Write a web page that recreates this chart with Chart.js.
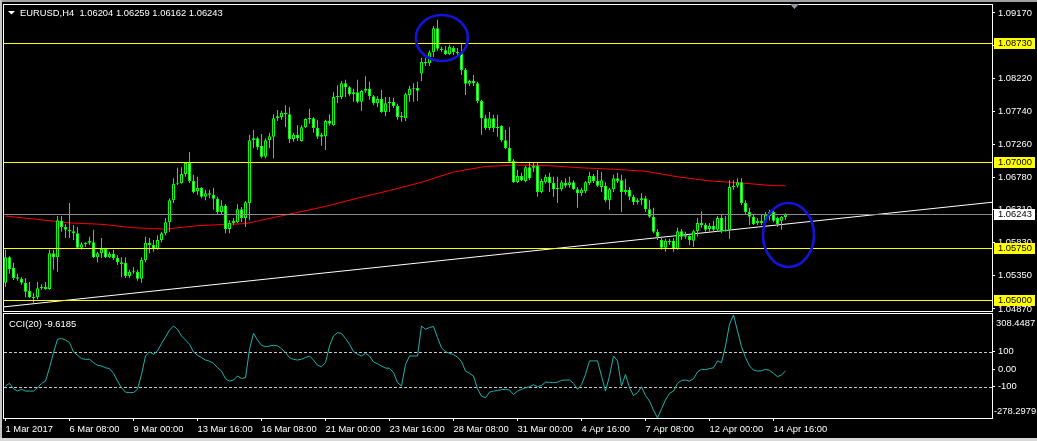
<!DOCTYPE html>
<html>
<head>
<meta charset="utf-8">
<title>EURUSD,H4</title>
<script src="https://cdn.jsdelivr.net/npm/chart.js@4.4.1/dist/chart.umd.min.js"></script>
<style>
  html, body { margin:0; padding:0; background:#000; }
  #wrap { position:relative; width:1037px; height:441px; background:#000; overflow:hidden; }
  canvas { position:absolute; left:0; display:block; }
  #main { top:0; }
  #cci { top:312px; }
  .edge { position:absolute; }
  #eTop { left:0; top:0; width:1037px; height:2px; background:#a0a0a0; }
  #eLeft { left:0; top:0; width:2px; height:441px; background:#c4c4c4; }
  #eBottom { left:0; bottom:0; width:1037px; height:3px; background:#d8d8d8; }
</style>
</head>
<body>
<div id="wrap">
  <canvas id="main" width="1037" height="312"></canvas>
  <canvas id="cci" width="1037" height="129"></canvas>
  <div class="edge" id="eTop"></div>
  <div class="edge" id="eLeft"></div>
  <div class="edge" id="eBottom"></div>
</div>
<script>
// ---------------- data ----------------
const symbol = 'EURUSD';
const timeframe = 'H4';

const open = [1.0525,1.0562,1.0547,1.0533,1.0531,1.0525,1.0513,1.0504,1.0504,1.0517,
1.0519,1.0516,1.0568,1.0562,1.0615,1.0606,1.0602,1.0600,1.0597,1.0576,
1.0581,1.0583,1.0584,1.0562,1.0568,1.0574,1.0562,1.0567,1.0561,1.0555,
1.0554,1.0535,1.0541,1.0541,1.0531,1.0558,1.0583,1.0580,1.0574,1.0587,
1.0597,1.0613,1.0645,1.0669,1.0670,1.0683,1.0699,1.0673,1.0658,1.0663,
1.0650,1.0655,1.0653,1.0647,1.0628,1.0637,1.0603,1.0612,1.0613,1.0632,
1.0619,1.0641,1.0732,1.0735,1.0724,1.0708,1.0732,1.0737,1.0764,1.0766,
1.0772,1.0770,1.0734,1.0740,1.0731,1.0751,1.0763,1.0764,1.0750,1.0737,
1.0738,1.0760,1.0754,1.0795,1.0795,1.0815,1.0809,1.0799,1.0802,1.0788,
1.0804,1.0807,1.0796,1.0786,1.0792,1.0773,1.0786,1.0788,1.0782,1.0766,
1.0764,1.0798,1.0807,1.0808,1.0829,1.0846,1.0844,1.0860,1.0895,1.0865,
1.0863,1.0857,1.0866,1.0860,1.0859,1.0834,1.0814,1.0818,1.0815,1.0789,
1.0764,1.0750,1.0764,1.0750,1.0753,1.0732,1.0721,1.0702,1.0671,1.0680,
1.0673,1.0693,1.0692,1.0695,1.0657,1.0671,1.0679,1.0670,1.0661,1.0661,
1.0670,1.0667,1.0671,1.0661,1.0655,1.0658,1.0670,1.0680,1.0673,1.0664,
1.0666,1.0645,1.0661,1.0677,1.0674,1.0657,1.0660,1.0650,1.0642,1.0645,
1.0648,1.0632,1.0621,1.0599,1.0587,1.0576,1.0586,1.0586,1.0574,1.0600,
1.0592,1.0593,1.0586,1.0600,1.0612,1.0609,1.0603,1.0608,1.0602,1.0619,
1.0600,1.0602,1.0664,1.0666,1.0671,1.0641,1.0628,1.0621,1.0612,1.0615,
1.0613,1.0622,1.0628,1.0619,1.0615,1.06204];

const high = [1.0573,1.0564,1.0554,1.0538,1.0533,1.0532,1.0526,1.0510,1.0526,1.0523,
1.0526,1.0573,1.0573,1.0622,1.0622,1.0610,1.0641,1.0609,1.0606,1.0584,
1.0584,1.0592,1.0602,1.0570,1.0590,1.0576,1.0570,1.0573,1.0565,1.0562,
1.0562,1.0544,1.0548,1.0544,1.0562,1.0592,1.0590,1.0587,1.0594,1.0599,
1.0619,1.0648,1.0677,1.0692,1.0693,1.0699,1.0715,1.0682,1.0679,1.0664,
1.0660,1.0660,1.0663,1.0650,1.0645,1.0639,1.0616,1.0619,1.0639,1.0635,
1.0644,1.0740,1.0747,1.0737,1.0741,1.0735,1.0743,1.0770,1.0776,1.0775,
1.0783,1.0780,1.0743,1.0754,1.0754,1.0764,1.0778,1.0766,1.0762,1.0743,
1.0762,1.0770,1.0802,1.0812,1.0818,1.0820,1.0811,1.0807,1.0820,1.0805,
1.0825,1.0817,1.0798,1.0796,1.0805,1.0795,1.0795,1.0794,1.0785,1.0773,
1.0801,1.0811,1.0815,1.0817,1.0852,1.0852,1.0863,1.0898,1.0907,1.0868,
1.0869,1.0871,1.0869,1.0866,1.0872,1.0837,1.0820,1.0827,1.0817,1.0791,
1.0769,1.0773,1.0769,1.0769,1.0754,1.0747,1.0751,1.0705,1.0689,1.0685,
1.0695,1.0701,1.0699,1.0699,1.0676,1.0682,1.0685,1.0679,1.0679,1.0674,
1.0677,1.0679,1.0674,1.0664,1.0663,1.0673,1.0686,1.0683,1.0689,1.0686,
1.0671,1.0663,1.0682,1.0685,1.0682,1.0676,1.0664,1.0653,1.0648,1.0655,
1.0651,1.0645,1.0634,1.0603,1.0592,1.0589,1.0589,1.0590,1.0605,1.0603,
1.0599,1.0594,1.0602,1.0619,1.0629,1.0612,1.0612,1.0615,1.0622,1.0624,
1.0622,1.0674,1.0674,1.0677,1.0677,1.0645,1.0634,1.0625,1.0619,1.0624,
1.0628,1.0631,1.0631,1.0621,1.0622,1.06259];

const low = [1.0519,1.0538,1.0529,1.0528,1.0522,1.0504,1.0503,1.0496,1.0501,1.0515,
1.0515,1.0515,1.0544,1.0541,1.0599,1.0590,1.0590,1.0587,1.0574,1.0573,
1.0577,1.0580,1.0561,1.0555,1.0561,1.0561,1.0561,1.0558,1.0551,1.0533,
1.0532,1.0532,1.0538,1.0528,1.0525,1.0555,1.0568,1.0570,1.0573,1.0584,
1.0594,1.0599,1.0641,1.0667,1.0669,1.0679,1.0670,1.0655,1.0653,1.0648,
1.0645,1.0648,1.0631,1.0624,1.0624,1.0597,1.0597,1.0609,1.0612,1.0613,
1.0606,1.0616,1.0721,1.0718,1.0706,1.0706,1.0721,1.0706,1.0760,1.0762,
1.0751,1.0728,1.0730,1.0731,1.0730,1.0750,1.0756,1.0743,1.0734,1.0724,
1.0718,1.0753,1.0753,1.0786,1.0792,1.0795,1.0796,1.0788,1.0786,1.0775,
1.0801,1.0791,1.0783,1.0780,1.0772,1.0767,1.0773,1.0779,1.0762,1.0759,
1.0760,1.0788,1.0788,1.0789,1.0818,1.0840,1.0840,1.0853,1.0862,1.0860,
1.0856,1.0856,1.0856,1.0856,1.0827,1.0798,1.0811,1.0811,1.0786,1.0740,
1.0747,1.0747,1.0744,1.0737,1.0730,1.0719,1.0699,1.0670,1.0670,1.0673,
1.0671,1.0674,1.0686,1.0650,1.0655,1.0669,1.0657,1.0650,1.0641,1.0658,
1.0663,1.0663,1.0660,1.0634,1.0651,1.0655,1.0667,1.0670,1.0664,1.0657,
1.0642,1.0631,1.0657,1.0670,1.0628,1.0653,1.0645,1.0638,1.0639,1.0638,
1.0628,1.0619,1.0597,1.0587,1.0573,1.0570,1.0580,1.0570,1.0573,1.0587,
1.0589,1.0580,1.0577,1.0592,1.0605,1.0599,1.0599,1.0599,1.0599,1.0597,
1.0599,1.0589,1.0660,1.0663,1.0638,1.0625,1.0609,1.0609,1.0609,1.0609,
1.0610,1.0616,1.0613,1.0606,1.0602,1.06162];

const close = [1.0562,1.0545,1.0532,1.0531,1.0525,1.0512,1.0504,1.0503,1.0517,1.0519,
1.0516,1.0568,1.0562,1.0616,1.0606,1.0602,1.0600,1.0597,1.0576,1.0581,
1.0583,1.0586,1.0562,1.0568,1.0574,1.0562,1.0567,1.0561,1.0555,1.0552,
1.0535,1.0541,1.0542,1.0531,1.0558,1.0583,1.0580,1.0574,1.0587,1.0597,
1.0613,1.0645,1.0669,1.0670,1.0683,1.0699,1.0673,1.0657,1.0663,1.0650,
1.0655,1.0653,1.0647,1.0628,1.0637,1.0603,1.0612,1.0615,1.0632,1.0619,
1.0642,1.0732,1.0735,1.0722,1.0708,1.0732,1.0738,1.0764,1.0767,1.0772,
1.0770,1.0734,1.0740,1.0735,1.0751,1.0763,1.0764,1.0750,1.0737,1.0740,
1.0760,1.0756,1.0795,1.0796,1.0815,1.0809,1.0799,1.0802,1.0788,1.0804,
1.0807,1.0796,1.0786,1.0792,1.0773,1.0786,1.0788,1.0782,1.0766,1.0767,
1.0799,1.0807,1.0808,1.0804,1.0846,1.0844,1.0860,1.0895,1.0865,1.0863,
1.0857,1.0868,1.0860,1.0859,1.0834,1.0814,1.0818,1.0815,1.0789,1.0764,
1.0750,1.0764,1.0750,1.0751,1.0732,1.0721,1.0701,1.0671,1.0680,1.0674,
1.0693,1.0677,1.0695,1.0657,1.0673,1.0679,1.0670,1.0661,1.0663,1.0671,
1.0666,1.0671,1.0661,1.0655,1.0660,1.0671,1.0680,1.0673,1.0666,1.0674,
1.0645,1.0661,1.0677,1.0673,1.0657,1.0660,1.0650,1.0642,1.0645,1.0648,
1.0632,1.0621,1.0599,1.0592,1.0576,1.0586,1.0584,1.0574,1.0600,1.0592,
1.0594,1.0587,1.0600,1.0612,1.0609,1.0602,1.0608,1.0602,1.0619,1.0600,
1.0602,1.0664,1.0666,1.0671,1.0641,1.0628,1.0621,1.0610,1.0615,1.0612,
1.0624,1.0628,1.0615,1.0610,1.0621,1.06243];

// moving average (red) read at selected bars
const maBars   = [0,8,16,24,32,40,48,56,60,64,72,80,88,96,104,112,120,128,136,144,152,160,168,176,184,192,195];
const maValues = [1.0622,1.0617,1.0612,1.0610,1.0605,1.0603,1.0608,1.0610,1.0611,1.0616,1.0626,1.0636,1.0648,1.0659,1.0671,1.0686,1.0694,1.0696,1.0695,1.0692,1.0690,1.0687,1.0679,1.0673,1.0670,1.0666,1.0666];

// white trend line (two anchors, bar index / price)
const trendBars   = [-0.375, 246.625];
const trendPrices = [1.0490, 1.0642];

// horizontal levels (yellow)
const levels = [1.08730, 1.07000, 1.05750, 1.05000];

// price axis tick labels
const priceTicks = [1.09170, 1.08700, 1.08220, 1.07740, 1.07260, 1.06780, 1.06310, 1.05830, 1.05350, 1.04870];

// time axis labels (one every 16 bars)
const timeLabels = ['1 Mar 2017','6 Mar 08:00','9 Mar 00:00','13 Mar 16:00','16 Mar 08:00','21 Mar 00:00',
  '23 Mar 16:00','28 Mar 08:00','31 Mar 00:00','4 Apr 16:00','7 Apr 08:00','12 Apr 00:00','14 Apr 16:00'];
const timeLabelStep = 16;

// CCI(20)
const cciPeriod = 20;
const cci = [-96,-81,-112,-125,-115,-125,-125,-125,-106,-81,
-68,8,94,170,175,166,151,98,79,60,
56,56,37,22,18,8,3,-24,-68,-106,
-131,-134,-133,-115,-30,75,98,85,104,146,
183,222,246,227,189,166,142,98,79,66,
52,45,33,8,-11,-55,-68,-62,-39,-53,
-49,113,204,166,136,128,132,136,132,117,
94,66,56,52,56,66,75,52,22,14,
37,132,189,208,204,174,142,100,85,75,
90,75,41,31,18,6,5,-20,-77,-96,
27,75,75,75,246,227,237,243,180,121,
100,90,83,69,43,-11,-24,-39,-112,-154,
-163,-131,-125,-121,-117,-115,-119,-144,-125,-115,
-106,-100,-89,-100,-93,-74,-75,-77,-74,-64,
-62,-62,-81,-115,-89,-30,47,47,47,-39,
-125,-39,75,47,-96,-30,-106,-150,-134,-100,
-150,-182,-234,-278.2979,-226,-176,-138,-125,-81,-64,
-62,-68,-55,-16,-1,-3,3,8,47,37,
132,256,308.4487,218,128,66,18,-5,-11,-9,
-1,-7,-24,-43,-33,-9.6185];
const cciTicks = [100, 0, -100];
const cciLevels = [100, -100];
const cciMax = 308.4487;
const cciMin = -278.2979;

// annotations (blue ellipses): centre in bar/price, radii in px
const ellipses = [
  { bar: 109.1, price: 1.08807, rx: 26, ry: 23 },
  { bar: 195.75, price: 1.05944, rx: 25.5, ry: 32 }
];

// ---------------- layout / style ----------------
const XMIN = -0.375, XMAX = 246.625;
const PRICE_MIN = 1.04840, PRICE_MAX = 1.09286;
const FONT = '"Liberation Sans", Arial, sans-serif';
const FS = 9.4;
const FG = '#ffffff';
const CANDLE = '#00ff00';
const n = close.length - 1;

function hline(ctx, x1, x2, y) { ctx.beginPath(); ctx.moveTo(x1, y); ctx.lineTo(x2, y); ctx.stroke(); }

const mainPlugin = {
  id: 'mt4main',
  afterDatasetsDraw(chart) {
    const { ctx, chartArea: a, scales: { x, y } } = chart;
    ctx.save();
    ctx.beginPath(); ctx.rect(a.left, a.top, a.right - a.left, a.bottom - a.top); ctx.clip();
    ctx.lineWidth = 1;
    ctx.strokeStyle = '#8c8c8c';
    hline(ctx, a.left, a.right, Math.round(y.getPixelForValue(close[n])) + 0.5);
    ctx.strokeStyle = '#ffff00';
    levels.forEach(v => hline(ctx, a.left, a.right, Math.round(y.getPixelForValue(v)) + 0.5));
    ctx.strokeStyle = '#1414d8';
    ctx.lineWidth = 2.6;
    ellipses.forEach(e => {
      ctx.beginPath();
      ctx.ellipse(x.getPixelForValue(e.bar), y.getPixelForValue(e.price), e.rx, e.ry, 0, 0, Math.PI * 2);
      ctx.stroke();
    });
    ctx.restore();
  },
  afterDraw(chart) {
    const { ctx, chartArea: a, scales: { x, y } } = chart;
    ctx.save();
    // frame
    ctx.strokeStyle = FG; ctx.lineWidth = 1;
    ctx.strokeRect(a.left - 0.5, a.top - 0.5, a.right - a.left + 1, a.bottom - a.top + 1);
    // level labels on price scale
    ctx.font = FS + 'px ' + FONT;
    ctx.textBaseline = 'middle'; ctx.textAlign = 'left';
    const box = (v, bg) => {
      const yy = Math.round(y.getPixelForValue(v));
      ctx.fillStyle = bg; ctx.fillRect(a.right + 2, yy - 5, 41, 11);
      ctx.fillStyle = '#000'; ctx.fillText(v.toFixed(5), a.right + 6, yy + 0.5);
    };
    levels.forEach(v => box(v, '#ffff00'));
    box(close[n], '#ffffff');
    // chart shift marker
    const sx = Math.round(x.getPixelForValue(n + 2)) + 0.5;
    ctx.fillStyle = '#8a98a8';
    ctx.beginPath(); ctx.moveTo(sx - 4.5, a.top - 1); ctx.lineTo(sx + 4.5, a.top - 1); ctx.lineTo(sx, a.top + 4); ctx.closePath(); ctx.fill();
    // title
    ctx.fillStyle = FG;
    ctx.beginPath(); ctx.moveTo(8, 11); ctx.lineTo(15, 11); ctx.lineTo(11.5, 14.5); ctx.closePath(); ctx.fill();
    const f = v => v.toFixed(5);
    ctx.fillText(symbol + ',' + timeframe + '  ' + f(open[n]) + ' ' + f(high[n]) + ' ' + f(low[n]) + ' ' + f(close[n]), 20, 13);
    ctx.restore();
  }
};

const cciPlugin = {
  id: 'mt4cci',
  beforeDatasetsDraw(chart) {
    const { ctx, chartArea: a, scales: { y } } = chart;
    ctx.save();
    ctx.strokeStyle = '#c8c8c8'; ctx.lineWidth = 1; ctx.setLineDash([3, 2]);
    cciLevels.forEach(v => hline(ctx, a.left, a.right, Math.round(y.getPixelForValue(v)) + 0.5));
    ctx.restore();
  },
  afterDraw(chart) {
    const { ctx, chartArea: a } = chart;
    ctx.save();
    ctx.strokeStyle = FG; ctx.lineWidth = 1;
    ctx.strokeRect(a.left - 0.5, a.top - 1.5, a.right - a.left + 1, a.bottom - a.top + 2);
    ctx.font = FS + 'px ' + FONT; ctx.fillStyle = FG;
    ctx.textBaseline = 'middle'; ctx.textAlign = 'left';
    ctx.fillText('CCI(' + cciPeriod + ') ' + cci[n].toFixed(4), 9, 12.5);
    ctx.fillText(cciMax.toFixed(4), a.right + 4, a.top + 8);
    ctx.fillText(cciMin.toFixed(4), a.right + 2, a.bottom - 6.5);
    ctx.restore();
  }
};

const common = { responsive: false, animation: false, devicePixelRatio: 1, events: [],
  plugins: { legend: { display: false }, tooltip: { enabled: false } } };

new Chart(document.getElementById('main'), {
  type: 'bar',
  data: {
    datasets: [
      { type: 'bar', order: 0, data: open.map((o, i) => ({ x: i, y: [o, close[i]] })),
        barThickness: 3, borderWidth: 1, borderColor: CANDLE, borderSkipped: false, inflateAmount: 0,
        grouped: false, minBarLength: 1,
        backgroundColor: c => (close[c.dataIndex] > open[c.dataIndex] ? '#000000' : '#ffffff') },
      { type: 'bar', order: 1, data: low.map((l, i) => ({ x: i, y: [l, high[i]] })),
        barThickness: 1, borderWidth: 0, inflateAmount: 0, grouped: false, backgroundColor: CANDLE },
      { type: 'line', order: 2, data: maBars.map((b, k) => ({ x: b, y: maValues[k] })),
        borderColor: '#ff0000', borderWidth: 1, pointRadius: 0, tension: 0 },
      { type: 'line', order: 3, data: trendBars.map((b, k) => ({ x: b, y: trendPrices[k] })),
        borderColor: '#ffffff', borderWidth: 1, pointRadius: 0 }
    ]
  },
  options: Object.assign({}, common, {
    layout: { padding: { left: 4, top: 5, right: 0, bottom: 1 } },
    scales: {
      x: { type: 'linear', min: XMIN, max: XMAX, display: false, offset: false },
      y: { type: 'linear', position: 'right', min: PRICE_MIN, max: PRICE_MAX,
        afterBuildTicks: s => { s.ticks = priceTicks.map(v => ({ value: v })); },
        afterFit: s => { s.width = 45; s.paddingTop = 0; s.paddingBottom = 0; },
        ticks: { color: FG, font: { family: FONT, size: FS }, padding: 3, autoSkip: false,
          callback: v => Number(v).toFixed(5) },
        grid: { drawOnChartArea: false, drawTicks: true, tickLength: 3, color: FG, lineWidth: 1 },
        border: { display: true, color: FG, width: 1 } }
    }
  }),
  plugins: [mainPlugin]
});

new Chart(document.getElementById('cci'), {
  type: 'line',
  data: { datasets: [{ data: cci.map((v, i) => ({ x: i, y: v })), borderColor: '#20b2aa', borderWidth: 1, pointRadius: 0, tension: 0 }] },
  options: Object.assign({}, common, {
    layout: { padding: { left: 4, top: 3, right: 0, bottom: 0 } },
    scales: {
      x: { type: 'linear', position: 'bottom', min: XMIN, max: XMAX, offset: false,
        afterBuildTicks: s => { s.ticks = timeLabels.map((_, k) => ({ value: k * timeLabelStep })); },
        afterFit: s => { s.height = 23; s.paddingLeft = 0; s.paddingRight = 0; },
        ticks: { color: FG, font: { family: FONT, size: FS }, padding: 2.5, autoSkip: false, maxRotation: 0, minRotation: 0,
          align: 'start', callback: (v, k) => timeLabels[k] },
        grid: { drawOnChartArea: false, drawTicks: true, tickLength: 3, color: FG },
        border: { display: true, color: FG, width: 1 } },
      y: { type: 'linear', position: 'right', min: cciMin, max: cciMax,
        afterBuildTicks: s => { s.ticks = cciTicks.map(v => ({ value: v })); },
        afterFit: s => { s.width = 45; s.paddingTop = 0; s.paddingBottom = 0; },
        ticks: { color: FG, font: { family: FONT, size: FS }, padding: 3, autoSkip: false,
          callback: v => (v === 0 ? '0.00' : String(v)) },
        grid: { drawOnChartArea: false, drawTicks: true, tickLength: 3, color: FG },
        border: { display: true, color: FG, width: 1 } }
    }
  }),
  plugins: [cciPlugin]
});
</script>
</body>
</html>
